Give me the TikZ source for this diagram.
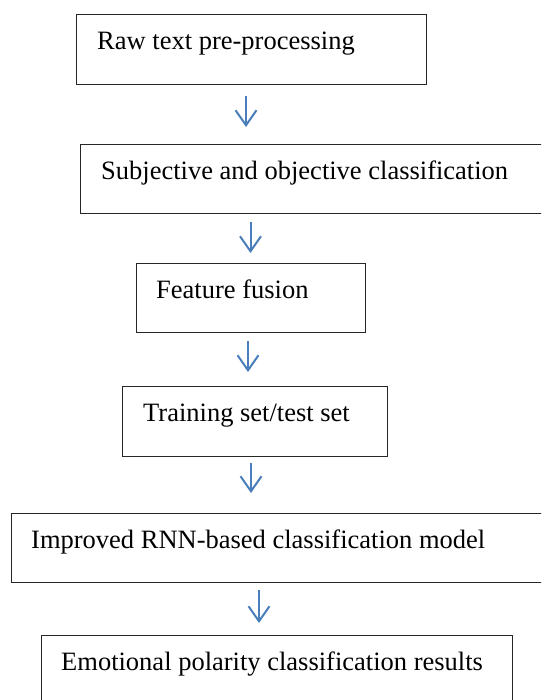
\documentclass[tikz,border=0pt]{standalone}
\usepackage{fontspec}
\setmainfont{Liberation Serif}
\usetikzlibrary{arrows.meta}
\definecolor{arrblue}{RGB}{74,126,187}
\tikzset{
  stepbox/.style={draw=black!85, line width=1.3pt, rectangle, inner sep=0pt, anchor=north west},
  steptext/.style={anchor=base west, inner sep=0pt, font=\fontsize{26.5}{30}\selectfont},
  flowarrow/.style={draw=arrblue, line width=2pt, -{Straight Barb[length=15pt,width=21pt,line width=2pt]}}
}
\begin{document}
\begin{tikzpicture}[x=1pt,y=-1pt]
\clip (0,0) rectangle (541,700);
\fill[white] (0,0) rectangle (541,700);
% boxes
\node[stepbox, minimum width=350pt, minimum height=70pt] (b1) at (76,14) {};
\node[stepbox, minimum width=465pt, minimum height=69pt] (b2) at (80,144) {};
\node[stepbox, minimum width=228.5pt, minimum height=69pt] (b3) at (136,263) {};
\node[stepbox, minimum width=264.5pt, minimum height=70pt] (b4) at (122,386) {};
\node[stepbox, minimum width=534.5pt, minimum height=69pt] (b5) at (10.5,513) {};
\node[stepbox, minimum width=471.5pt, minimum height=70pt] (b6) at (40.5,635) {};
% texts
\node[steptext] (t1) at (97,49.5) {Raw text pre-processing};
\node[steptext] (t2) at (101,180) {Subjective and objective classification};
\node[steptext] (t3) at (156,298.5) {Feature fusion};
\node[steptext] (t4) at (143,421.5) {Training set/test set};
\node[steptext] (t5) at (31,548.5) {Improved RNN-based classification model};
\node[steptext] (t6) at (61,670.5) {Emotional polarity classification results};
% arrows
\coordinate (a1s) at (246,96);   \coordinate (a1e) at (246,127);
\coordinate (a2s) at (250.5,222); \coordinate (a2e) at (250.5,253);
\coordinate (a3s) at (248,341);  \coordinate (a3e) at (248,372);
\coordinate (a4s) at (251,463);  \coordinate (a4e) at (251,493);
\coordinate (a5s) at (259,590);  \coordinate (a5e) at (259,623);
\draw[flowarrow] (a1s) -- (a1e);
\draw[flowarrow] (a2s) -- (a2e);
\draw[flowarrow] (a3s) -- (a3e);
\draw[flowarrow] (a4s) -- (a4e);
\draw[flowarrow] (a5s) -- (a5e);
\end{tikzpicture}
\end{document}
